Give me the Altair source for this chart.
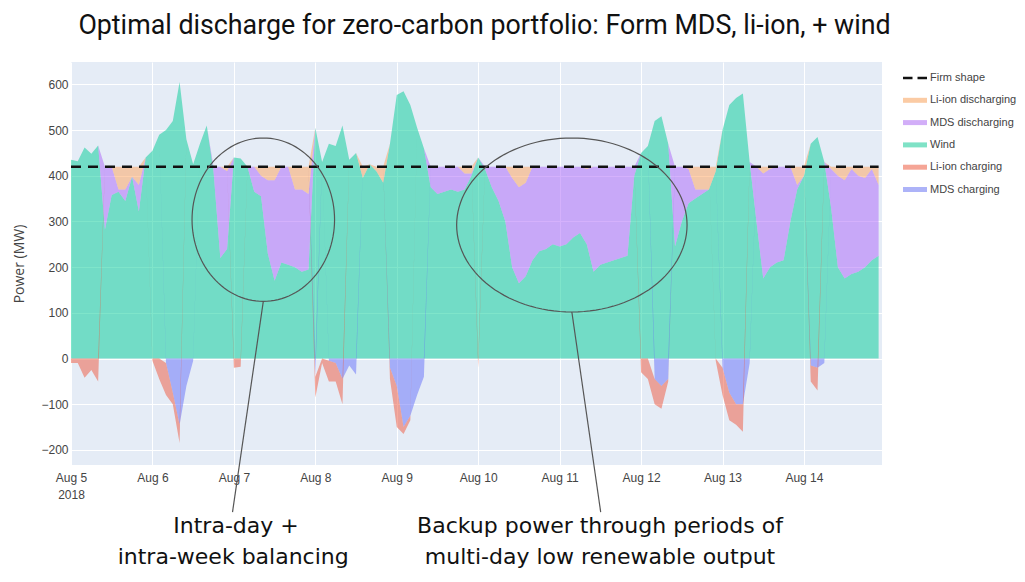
import json
import numpy as np
import pandas as pd
import altair as alt

# ---------------- data ----------------
START = pd.Timestamp("2018-08-05 00:00:00")
hours = list(range(0, 240, 2))  # hours after Aug 5 2018 00:00

wind = [
    435, 432, 462, 448, 466, 282, 358, 365, 345, 398,
    322, 440, 455, 490, 500, 520, 605, 480, 425, 470,
    510, 410, 220, 240, 440, 438, 420, 365, 355, 230,
    170, 210, 205, 200, 190, 195, 505, 430, 470, 465,
    510, 435, 450, 395, 425, 410, 385, 470, 577, 585,
    555, 505, 460, 375, 360, 365, 370, 365, 370, 400,
    440, 415, 375, 345, 300, 200, 165, 180, 215, 235,
    240, 250, 245, 250, 265, 275, 250, 190, 205, 210,
    215, 220, 225, 400, 450, 465, 520, 530, 470, 245,
    300, 340, 350, 360, 370, 410, 500, 555, 570, 580,
    430, 300, 175, 200, 210, 215, 300, 370, 400, 470,
    485, 430, 330, 200, 175, 185, 190, 200, 215, 225]

mds_dis = [
    0, 0, 0, 0, 0, 138, 62, 5, 25, 0,
    58, 0, 0, 0, 0, 0, 0, 0, 0, 0,
    0, 10, 200, 170, 0, 0, 0, 55, 45, 160,
    220, 210, 215, 170, 180, 165, 0, 0, 0, 0,
    0, 0, 0, 0, 0, 0, 0, 0, 0, 0,
    0, 0, 0, 45, 60, 55, 50, 55, 35, 5,
    0, 5, 45, 75, 120, 195, 210, 205, 205, 185,
    180, 170, 175, 170, 155, 145, 165, 230, 215, 210,
    205, 200, 195, 20, 0, 0, 0, 0, 0, 175,
    120, 75, 20, 10, 0, 0, 0, 0, 0, 0,
    0, 120, 230, 215, 210, 205, 120, 10, 0, 0,
    0, 0, 85, 200, 215, 230, 210, 195, 200, 155]

li_dis = [
    0, 0, 0, 0, 0, 0, 0, 50, 50, 22,
    40, 0, 0, 0, 0, 0, 0, 0, 0, 0,
    0, 0, 0, 10, 0, 0, 0, 0, 20, 30,
    30, 0, 0, 50, 50, 60, 0, 0, 0, 0,
    0, 0, 0, 25, 0, 10, 35, 0, 0, 0,
    0, 0, 0, 0, 0, 0, 0, 0, 15, 15,
    0, 0, 0, 0, 0, 25, 45, 35, 0, 0,
    0, 0, 0, 0, 0, 0, 5, 0, 0, 0,
    0, 0, 0, 0, 0, 0, 0, 0, 0, 0,
    0, 5, 50, 50, 50, 10, 0, 0, 0, 0,
    0, 0, 15, 5, 0, 0, 0, 40, 20, 0,
    0, 0, 5, 20, 30, 5, 20, 25, 5, 40]

mds_ch = [
    0, 0, 0, 0, 0, 0, 0, 0, 0, 0,
    0, 0, 0, 0, -10, -75, -145, -60, -5, 0,
    0, 0, 0, 0, 0, 0, 0, 0, 0, 0,
    0, 0, 0, 0, 0, 0, -40, 0, -5, -10,
    -45, -15, -35, 0, 0, 0, 0, -20, -60, -150,
    -125, -80, -40, 0, 0, 0, 0, 0, 0, 0,
    0, 0, 0, 0, 0, 0, 0, 0, 0, 0,
    0, 0, 0, 0, 0, 0, 0, 0, 0, 0,
    0, 0, 0, 0, 0, 0, -45, -60, -45, 0,
    0, 0, 0, 0, 0, 0, -20, -75, -100, -100,
    -10, 0, 0, 0, 0, 0, 0, 0, 0, -15,
    -20, -10, 0, 0, 0, 0, 0, 0, 0, 0]

li_ch = [
    -10, -10, -42, -25, -50, 0, 0, 0, 0, 0,
    0, 0, -5, -45, -70, -25, -40, 0, 0, 0,
    0, 0, 0, 0, -20, -18, 0, 0, 0, 0,
    0, 0, 0, 0, 0, 0, -45, -10, -45, -40,
    -55, 0, 0, 0, 0, 0, 0, -25, -90, -15,
    -10, 0, 0, 0, 0, 0, 0, 0, 0, 0,
    -20, 0, 0, 0, 0, 0, 0, 0, 0, 0,
    0, 0, 0, 0, 0, 0, 0, 0, 0, 0,
    0, 0, 0, 0, -30, -45, -55, -50, -5, 0,
    0, 0, 0, 0, 0, -5, -60, -60, -45, -60,
    0, 0, 0, 0, 0, 0, 0, 0, 0, -35,
    -50, 0, 0, 0, 0, 0, 0, 0, 0, 0]

firm_shape = 420

legend_series = ["Firm shape", "Li-ion discharging", "MDS discharging", "Wind",
                 "Li-ion charging", "MDS charging"]
stack_series = ["Wind", "MDS discharging", "Li-ion discharging", "MDS charging", "Li-ion charging"]
stack_colors = ["#00CC96", "#AB63FA", "#FFA15A", "#636EFA", "#EF553B"]
legend_colors = ["#111111", "#FBCBA4", "#D2AEF8", "#7FE2C6", "#F5A596", "#ADB3F8"]

tick_days = [5, 6, 7, 8, 9, 10, 11, 12, 13, 14]
tick_labels = ["Aug 5", "Aug 6", "Aug 7", "Aug 8", "Aug 9", "Aug 10", "Aug 11",
               "Aug 12", "Aug 13", "Aug 14"]
tick_year = "2018"
y_ticks = [-200, -100, 0, 100, 200, 300, 400, 500, 600]

TITLE = "Optimal discharge for zero-carbon portfolio: Form MDS, li-ion, + wind"

# annotations (hour offset, MW)
ellipses = [
    {"h": 56.67, "v": 303.9, "rh": 21.0, "rv": 178.8},
    {"h": 147.6, "v": 292.3, "rh": 33.95, "rv": 190.4},
]
pointers = [
    {"h": 56.67, "v": 125.1, "h2": 47.6, "v2": -336.0},
    {"h": 147.6, "v": 101.9, "h2": 156.1, "v2": -336.0},
]
note_text = ["Intra-day +", "intra-week balancing",
             "Backup power through periods of", "multi-day low renewable output"]
note_h = [48.63, 47.8, 155.9, 155.9]
note_v = [-366, -434, -366, -434]

SANS = "Liberation Sans"

# ---------------- frames ----------------
def ts(h):
    return START + pd.Timedelta(hours=float(h))

times = [ts(h) for h in hours]
vals = {"Wind": wind, "MDS discharging": mds_dis, "Li-ion discharging": li_dis,
        "MDS charging": mds_ch, "Li-ion charging": li_ch}
df = pd.DataFrame([
    {"time": t, "series": s, "value": vals[s][i], "ord": stack_series.index(s)}
    for s in stack_series for i, t in enumerate(times)
])
df_firm = pd.DataFrame({"time": times, "firm": [firm_shape] * len(times)})

theta = np.linspace(0, 2 * np.pi, 121)
df_ell = pd.DataFrame([
    {"id": k, "idx": j, "time": ts(e["h"] + e["rh"] * np.cos(t)),
     "value": e["v"] + e["rv"] * np.sin(t)}
    for k, e in enumerate(ellipses) for j, t in enumerate(theta)
])
df_ptr = pd.DataFrame([
    {"time": ts(p["h"]), "value": p["v"], "time2": ts(p["h2"]), "value2": p["v2"]}
    for p in pointers
])
df_note = pd.DataFrame({"time": [ts(h) for h in note_h], "value": note_v, "label": note_text})
df_leg = pd.DataFrame({"series": legend_series,
                       "time": [START - pd.Timedelta(days=3)] * len(legend_series),
                       "value": [0] * len(legend_series)})

# ---------------- scales / axes ----------------
x_scale = alt.Scale(domain=[alt.DateTime(year=2018, month=8, date=5, hours=0),
                            alt.DateTime(year=2018, month=8, date=14, hours=23)])
y_scale = alt.Scale(domain=[-233, 649], nice=False, zero=False)

label_expr = (f"date(datum.value) == {tick_days[0]} ? [{json.dumps(tick_labels[0])}, {json.dumps(tick_year)}]"
              f" : {json.dumps(tick_labels)}[date(datum.value) - {tick_days[0]}]")

x_axis = alt.Axis(values=[alt.DateTime(year=2018, month=8, date=d) for d in tick_days],
                  labelExpr=label_expr, title=None, grid=True, gridColor="white",
                  gridWidth=1, domain=False, ticks=False, labelFont=SANS,
                  labelFontSize=12, labelColor="#444", labelPadding=7,
                  labelLineHeight=17, labelAngle=0, labelFlush=False, labelOverlap=False)
y_axis = alt.Axis(values=y_ticks, grid=True, gridColor="white", gridWidth=1,
                  domain=False, ticks=False, labelFont=SANS, labelFontSize=12,
                  labelColor="#444", labelPadding=3, title="Power (MW)",
                  titleFont="Open Sans", titleFontSize=14, titleFontWeight="normal",
                  titleColor="#444", titlePadding=14)

X = alt.X("time:T", scale=x_scale, axis=x_axis)
Y = alt.Y("value:Q", scale=y_scale, axis=y_axis)

area = alt.Chart(df).mark_area(opacity=0.5, interpolate="linear").encode(
    x=X,
    y=alt.Y("value:Q", stack="zero", scale=y_scale, axis=y_axis),
    color=alt.Color("series:N", scale=alt.Scale(domain=stack_series, range=stack_colors),
                    legend=None),
    order=alt.Order("ord:Q", sort="ascending"),
)

firm = alt.Chart(df_firm).mark_line(color="#111111", strokeWidth=2.5,
                                     strokeDash=[10, 7]).encode(
    x=X, y=alt.Y("firm:Q", scale=y_scale, axis=y_axis))

ell = alt.Chart(df_ell).mark_line(color="#555555", strokeWidth=1.2).encode(
    x=X, y=Y, detail="id:N", order="idx:Q")

ptr = alt.Chart(df_ptr).mark_rule(color="#555555", strokeWidth=1.2).encode(
    x=X, y=Y, x2="time2:T", y2="value2:Q")

notes = alt.Chart(df_note).mark_text(font="DejaVu Sans", fontSize=22, color="#111111",
                                     align="center", baseline="middle").encode(
    x=X, y=Y, text="label:N")

bar_path = "M-1.2,-0.25L1.2,-0.25L1.2,0.25L-1.2,0.25Z"
dash_path = ("M-1.2,-0.13L-0.25,-0.13L-0.25,0.13L-1.2,0.13Z"
             "M0.25,-0.13L1.2,-0.13L1.2,0.13L0.25,0.13Z")
shape_paths = [dash_path] + [bar_path] * 5

legend = alt.Legend(title=None, orient="none", legendX=834, legendY=6, symbolSize=400,
                    labelFont=SANS, labelFontSize=11, labelColor="#444",
                    labelOffset=5, rowPadding=7.3, padding=0, symbolStrokeWidth=0,
                    labelLimit=200, symbolOpacity=1)

leg = alt.Chart(df_leg).mark_point(filled=True, clip=True, opacity=1).encode(
    x=X, y=Y,
    fill=alt.Fill("series:N", scale=alt.Scale(domain=legend_series, range=legend_colors),
                  legend=legend),
    shape=alt.Shape("series:N", scale=alt.Scale(domain=legend_series, range=shape_paths),
                    legend=legend),
)

chart = alt.layer(area, firm, ell, ptr, notes, leg).properties(
    width=811, height=403,
    title=alt.TitleParams(TITLE, font="Roboto", fontSize=26.8, fontWeight="normal",
                          color="#111111", anchor="middle", frame="group",
                          offset=22, dx=8),
    padding={"left": 63, "top": 54, "right": 135, "bottom": 109},
    autosize=alt.AutoSizeParams(type="none"),
).configure(background="white").configure_view(fill="#E5ECF6", strokeWidth=0)

chart.save("out.html", embed_options={"renderer": "svg", "actions": False})
